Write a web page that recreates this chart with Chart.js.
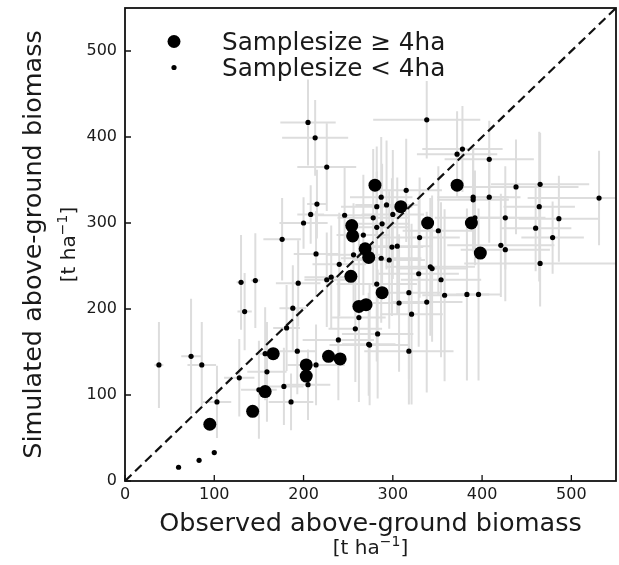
<!DOCTYPE html>
<html>
<head>
<meta charset="utf-8">
<script src="https://cdn.jsdelivr.net/npm/chart.js@4/dist/chart.umd.min.js"></script>
<style>
html, body { margin: 0; padding: 0; background: #fff; }
</style>
</head>
<body>
<canvas id="biomassChart" width="619" height="565"></canvas>
<script>
//DATA
//plots with sample size >= 4 ha (observed, simulated)
const bigObs = [95, 143, 157, 166, 203, 203, 228, 241, 253, 255, 254, 262, 270, 288, 269, 273, 280, 309, 339, 372, 388, 398];
const bigSim = [66, 81, 104, 148, 135, 122, 145, 142, 238, 285, 297, 203, 205, 219, 270, 260, 344, 319, 300, 344, 300, 265];

//plots with sample size < 4 ha
const smallObs = [38, 74, 86, 103, 100, 83, 60, 128, 134, 157, 159, 150, 178, 186, 188, 181, 193, 176, 130, 146,
    214, 240, 231, 226, 194, 214, 205, 262, 258, 239, 273, 205, 213, 226, 215, 208, 200, 246, 267, 338,
    372, 378, 408, 315, 287, 293, 282, 300, 278, 288, 282, 351, 330, 305, 299, 287, 296, 256, 282, 329,
    342, 344, 354, 390, 390, 408, 438, 465, 531, 464, 426, 392, 486, 460, 479, 421, 426, 465, 318, 358,
    383, 396, 307, 338, 321, 283, 274, 318];
const smallSim = [135, 145, 135, 92, 33, 24, 16, 120, 197, 148, 127, 106, 110, 92, 201, 178, 151, 281, 231, 233,
    264, 252, 237, 234, 230, 135, 112, 190, 177, 164, 159, 417, 399, 365, 322, 310, 300, 309, 286, 420,
    380, 386, 374, 338, 330, 321, 319, 310, 306, 299, 295, 291, 283, 273, 272, 259, 257, 263, 229, 241,
    249, 247, 234, 330, 327, 330, 342, 345, 329, 319, 306, 306, 305, 294, 283, 274, 269, 253, 219, 216,
    217, 217, 207, 208, 194, 171, 158, 151];
//error bars (+/-)
const smallObsErr = [5, 11, 16, 16, 0, 0, 0, 17, 8, 10, 22, 20, 22, 25, 15, 15, 20, 21, 5, 5,
    25, 30, 30, 25, 25, 32, 25, 30, 30, 40, 30, 31, 37, 33, 11, 15, 27, 30, 30, 60,
    45, 45, 50, 40, 35, 35, 40, 35, 40, 30, 35, 40, 45, 40, 35, 45, 40, 30, 45, 45,
    50, 40, 45, 40, 40, 35, 70, 55, 80, 40, 45, 45, 45, 40, 35, 60, 50, 85, 35, 25,
    25, 25, 30, 40, 35, 40, 45, 50];
const smallSimErr = [50, 67, 50, 42, 0, 0, 0, 45, 45, 54, 58, 57, 45, 33, 50, 50, 50, 48, 55, 55,
    50, 60, 60, 55, 50, 47, 41, 98, 62, 70, 60, 50, 44, 51, 40, 34, 30, 55, 70, 45,
    50, 50, 45, 60, 70, 75, 70, 75, 80, 70, 65, 75, 70, 80, 80, 75, 80, 60, 90, 85,
    80, 85, 90, 60, 60, 53, 55, 60, 55, 87, 60, 55, 50, 50, 42, 60, 60, 50, 100, 100,
    100, 100, 80, 105, 105, 75, 70, 62];

const axisTicks = [0, 100, 200, 300, 400, 500];
const legendLabels = ['Samplesize \u2265 4ha', 'Samplesize < 4ha'];
const xTitle = 'Observed above-ground biomass';
const yTitle = 'Simulated above-ground biomass';

const FONT = '"DejaVu Sans", sans-serif';
const TEXT = '#1a1a1a';

//unit label "[t ha^-1]" centred on x, baseline y
function drawUnit(ctx, x, y) {
    const base = '20px ' + FONT, sup = '14px ' + FONT;
    ctx.font = base;
    const w1 = ctx.measureText('[t ha').width;
    const w3 = ctx.measureText(']').width;
    ctx.font = sup;
    const w2 = ctx.measureText('\u22121').width;
    const left = x - (w1 + w2 + w3) / 2;
    ctx.textAlign = 'left';
    ctx.textBaseline = 'alphabetic';
    ctx.font = base;
    ctx.fillText('[t ha', left, y);
    ctx.font = sup;
    ctx.fillText('\u22121', left + w1, y - 8);
    ctx.font = base;
    ctx.fillText(']', left + w1 + w2, y);
}

//error bars under the points
const errorBars = {
    id: 'errorBars',
    beforeDatasetsDraw(chart) {
        const {ctx, chartArea: a, scales: {x, y}} = chart;
        ctx.save();
        ctx.beginPath();
        ctx.rect(a.left, a.top, a.width, a.height);
        ctx.clip();
        ctx.strokeStyle = '#dddddd';
        ctx.lineWidth = 2;
        smallObs.forEach((ox, i) => {
            const sy = smallSim[i], ex = smallObsErr[i], ey = smallSimErr[i];
            ctx.beginPath();
            if (ex > 0) {
                ctx.moveTo(x.getPixelForValue(ox - ex), y.getPixelForValue(sy));
                ctx.lineTo(x.getPixelForValue(ox + ex), y.getPixelForValue(sy));
            }
            if (ey > 0) {
                ctx.moveTo(x.getPixelForValue(ox), y.getPixelForValue(sy - ey));
                ctx.lineTo(x.getPixelForValue(ox), y.getPixelForValue(sy + ey));
            }
            ctx.stroke();
        });
        ctx.restore();
    }
};

//frame, inward ticks, axis titles and legend
const decorations = {
    id: 'decorations',
    afterDraw(chart) {
        const {ctx, chartArea: a, scales: {x, y}} = chart;
        ctx.save();
        ctx.strokeStyle = '#111';
        ctx.lineWidth = 1.3;
        ctx.beginPath();
        axisTicks.forEach(v => {
            const px = x.getPixelForValue(v), py = y.getPixelForValue(v);
            ctx.moveTo(px, a.bottom); ctx.lineTo(px, a.bottom - 6);
            ctx.moveTo(a.left, py); ctx.lineTo(a.left + 6, py);
        });
        ctx.stroke();
        ctx.lineWidth = 1.8;
        ctx.strokeRect(a.left, a.top, a.width, a.height);

        ctx.fillStyle = TEXT;
        const cx = (a.left + a.right) / 2, cy = (a.top + a.bottom) / 2;
        ctx.font = '25.5px ' + FONT;
        ctx.textAlign = 'center';
        ctx.textBaseline = 'alphabetic';
        ctx.fillText(xTitle, cx, 531);
        drawUnit(ctx, cx, 554);

        ctx.save();
        ctx.translate(41, cy);
        ctx.rotate(-Math.PI / 2);
        ctx.font = '25.5px ' + FONT;
        ctx.textAlign = 'center';
        ctx.fillText(yTitle, 0, 0);
        ctx.restore();
        ctx.save();
        ctx.translate(75, cy);
        ctx.rotate(-Math.PI / 2);
        drawUnit(ctx, 0, 0);
        ctx.restore();

        //legend
        const rows = [[6.5, 50], [2.6, 76]];
        rows.forEach(([r, base], i) => {
            ctx.fillStyle = '#000';
            ctx.beginPath();
            ctx.arc(174, base - 8.5, r, 0, Math.PI * 2);
            ctx.fill();
            ctx.fillStyle = TEXT;
            ctx.font = '24.7px ' + FONT;
            ctx.textAlign = 'left';
            ctx.fillText(legendLabels[i], 222, base);
        });
        ctx.restore();
    }
};

//datasets
const bigPoints = bigObs.map((v, i) => ({x: v, y: bigSim[i]}));
const smallPoints = smallObs.map((v, i) => ({x: v, y: smallSim[i]}));

const tickFont = {family: FONT, size: 16};

//no extra room for tick labels: the plot box is fixed by the layout padding
function fitX(s) {
    s.height = 84;
    s.paddingLeft = 0;
    s.paddingRight = 0;
}
function fitY(s) {
    s.width = 125;
    s.paddingTop = 0;
    s.paddingBottom = 0;
}

const config = {
    type: 'scatter',
    data: {
        datasets: [
            {
                label: legendLabels[0],
                data: bigPoints,
                pointRadius: 6.5,
                backgroundColor: '#000',
                borderWidth: 0,
                order: 0
            },
            {
                label: legendLabels[1],
                data: smallPoints,
                pointRadius: 2.6,
                backgroundColor: '#000',
                borderWidth: 0,
                order: 1
            },
            {
                label: '1:1',
                data: [{x: 0, y: 0}, {x: 550, y: 550}],
                showLine: true,
                borderColor: '#111',
                borderWidth: 2.2,
                borderDash: [9, 5],
                pointRadius: 0,
                order: 2
            }
        ]
    },
    options: {
        responsive: false,
        animation: false,
        layout: {autoPadding: false, padding: {top: 8, right: 3, left: 0, bottom: 0}},
        plugins: {
            legend: {display: false},
            tooltip: {enabled: false}
        },
        scales: {
            x: {
                type: 'linear',
                min: 0,
                max: 550,
                afterBuildTicks: s => { s.ticks = axisTicks.map(v => ({value: v})); },
                afterFit: fitX,
                grid: {display: false, drawTicks: false},
                border: {display: false},
                ticks: {padding: 4, color: TEXT, font: tickFont, maxRotation: 0}
            },
            y: {
                type: 'linear',
                min: 0,
                max: 550,
                afterBuildTicks: s => { s.ticks = axisTicks.map(v => ({value: v})); },
                afterFit: fitY,
                grid: {display: false, drawTicks: false},
                border: {display: false},
                ticks: {padding: 8, color: TEXT, font: tickFont}
            }
        }
    },
    plugins: [errorBars, decorations]
};

//render
const biomassChart = new Chart(
    document.getElementById('biomassChart').getContext('2d'),
    config
);
</script>
</body>
</html>
